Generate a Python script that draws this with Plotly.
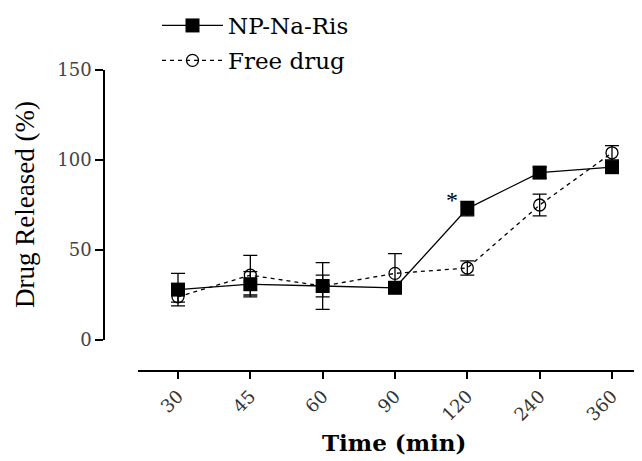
import plotly.graph_objects as go

time_labels = ["30", "45", "60", "90", "120", "240", "360"]
np_vals = [28, 31, 30, 29, 73, 93, 96]
np_err = [9, 7, 6, 2, 4, 3, 2]
free_vals = [24, 36, 30, 37, 40, 75, 104]
free_err = [3, 11, 13, 11, 4, 6, 4]

xs = list(range(len(time_labels)))
SERIF = "Liberation Serif"
WIDE = "DejaVu Serif"

# page body has an 8px margin, so the figure is drawn at (8, 8)
W, H = 634, 453
L, T, R, B = 96, 62, 0, 90
PW, PH = W - L - R, H - T - B

fig = go.Figure()
fig.add_trace(go.Scatter(
    x=xs, y=np_vals, name="NP-Na-Ris", mode="lines+markers", legendgroup="a",
    line=dict(color="black", width=1.3),
    marker=dict(symbol="square", size=14, color="black"),
    error_y=dict(type="data", array=np_err, color="black", thickness=1.3, width=7),
    cliponaxis=False,
))
fig.add_trace(go.Scatter(
    x=xs, y=free_vals, name="Free drug", mode="lines+markers", legendgroup="b",
    line=dict(color="black", width=1.3, dash="4px,4px"),
    marker=dict(symbol="circle-open", size=12, color="black", line=dict(width=1.3)),
    error_y=dict(type="data", array=free_err, color="black", thickness=1.3, width=7),
    cliponaxis=False,
))

fig.add_annotation(x=4, y=78, text="*", showarrow=False, xshift=-15,
                   font=dict(family=SERIF, size=24, color="black"))
fig.add_annotation(xref="paper", yref="paper", x=(17 - L) / PW, y=(363 - 197) / PH,
                   text="Drug Released (%)", textangle=-90, showarrow=False,
                   xanchor="center", yanchor="middle",
                   font=dict(family=SERIF, size=27, color="black"))
fig.add_annotation(xref="paper", yref="paper", x=(386 - L) / PW, y=(363 - 434) / PH,
                   text="<b>Time (min)</b>", showarrow=False,
                   xanchor="center", yanchor="middle",
                   font=dict(family=WIDE, size=23, color="black"))

fig.update_layout(
    width=W, height=H,
    margin=dict(l=L, r=R, t=T, b=B, autoexpand=False),
    plot_bgcolor="white", paper_bgcolor="white",
    font=dict(family=WIDE, color="black"),
    legend=dict(x=(149 - L) / PW, y=1 + (T + 4) / PH, xanchor="left", yanchor="top",
                font=dict(family=WIDE, size=23, color="black"),
                bgcolor="rgba(0,0,0,0)", traceorder="grouped", tracegroupgap=2,
                itemwidth=61),
    showlegend=True,
)

fig.update_xaxes(
    domain=[34 / PW, 1], anchor="free", position=0,
    range=[-0.553, 6.415],
    tickmode="array", tickvals=xs, ticktext=time_labels, tickangle=-45,
    showline=True, linecolor="black", linewidth=1.5,
    ticks="outside", ticklen=7, tickwidth=1.5, tickcolor="black",
    showgrid=False, zeroline=False, automargin=False,
    tickfont=dict(family=WIDE, size=18, color="#333"),
)
fig.update_yaxes(
    domain=[31 / PH, 1], anchor="free", position=0,
    range=[0, 150],
    tickvals=[0, 50, 100, 150],
    showline=True, linecolor="black", linewidth=1.5,
    ticks="outside", ticklen=8, tickwidth=1.5, tickcolor="black",
    showgrid=False, zeroline=False, automargin=False,
    tickfont=dict(family=WIDE, size=18, color="#444"),
)

fig.write_html("out.html")
